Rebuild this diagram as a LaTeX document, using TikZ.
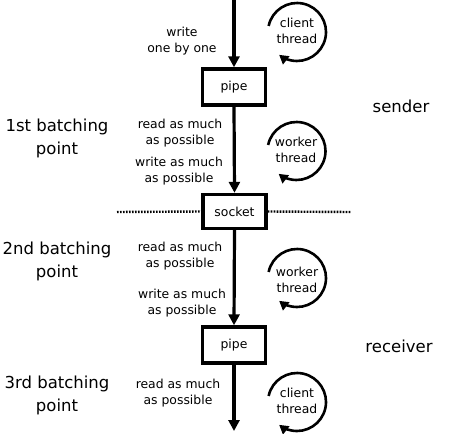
\documentclass[tikz,border=0pt]{standalone}
\usepackage{fontspec}
\setmainfont{DejaVu Sans}
\usetikzlibrary{arrows.meta}
\begin{document}
\begin{tikzpicture}[x=1pt,y=-1pt,
  txt/.style={font=\fontsize{12.4}{16}\selectfont, align=center, inner sep=0pt},
  big/.style={font=\fontsize{16.5}{23}\selectfont, align=center, inner sep=0pt},
  box/.style={draw, line width=3.4pt, minimum width=63pt, minimum height=36pt, inner sep=0pt, font=\fontsize{12.4}{16}\selectfont},
  flow/.style={line width=3.2pt, -{Triangle[length=11pt,width=11pt]}},
  sep/.style={line width=2.4pt, dash pattern=on 1.6pt off 1.4pt},
  loop/.style={line width=2.6pt, -{Triangle[length=9pt,width=10pt]}}]
\useasboundingbox (0,0) rectangle (473,433);
% boxes
\node[box] (pipe1) at (234,87) {pipe};
\node[box, minimum height=34pt] (socket) at (234.5,211.5) {socket};
\node[box] (pipe2) at (234,345) {pipe};
\coordinate (top) at (234,0);
\coordinate (bot) at (234,431);
\coordinate (dl) at (117,212);
\coordinate (dr) at (351,212);
% flow
\draw[flow] (top) -- (pipe1.north);
\draw[flow] (pipe1.south) -- (socket.north);
\draw[flow] (socket.south) -- (pipe2.north);
\draw[flow] (pipe2.south) -- (bot);
\draw[sep] (dl) -- (socket.west);
\draw[sep] (socket.east) -- (dr);
% middle labels
\node[txt] (l1) at (182,41) {write\\one by one};
\node[txt] (l2) at (180,133) {read as much\\as possible};
\node[txt] (l3) at (179,171) {write as much\\as possible};
\node[txt] (l4) at (180,256) {read as much\\as possible};
\node[txt] (l5) at (182,303) {write as much\\as possible};
\node[txt] (l6) at (178,393) {read as much\\as possible};
% thread loops
\node[txt] (t1) at (297,31) {client\\thread};
\node[txt] (t2) at (296,150) {worker\\thread};
\node[txt] (t3) at (297,280) {worker\\thread};
\node[txt] (t4) at (297,401) {client\\thread};
\foreach \cx/\cy in {297/32, 296.5/151, 297/278, 297/402}{
  \draw[loop] ([shift={(168:29pt)}]\cx,\cy) arc[start angle=168, end angle=-128, radius=29pt];
}
% left labels
\node[big] (b1) at (57,138) {1st batching\\point};
\node[big] (b2) at (57,261) {2nd batching\\point};
\node[big] (b3) at (57,395) {3rd batching\\point};
% right labels
\node[big] (s) at (401,106) {sender};
\node[big] (r) at (399,346) {receiver};
\end{tikzpicture}
\end{document}
